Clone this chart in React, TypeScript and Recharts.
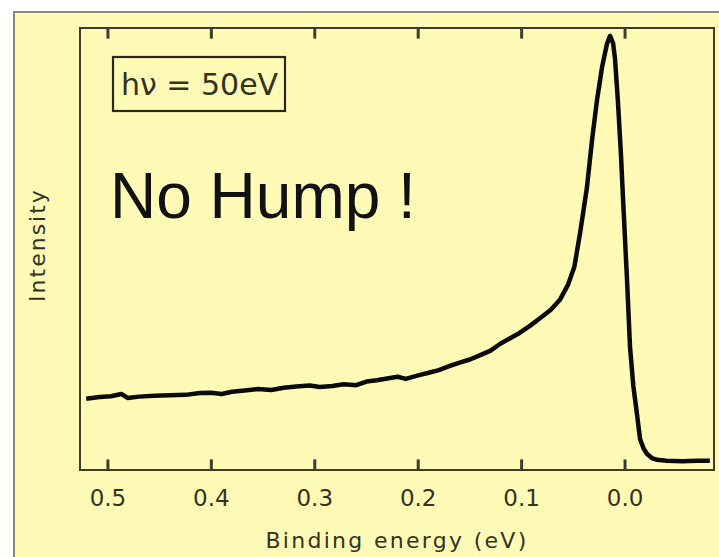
import React from "react";
import { LineChart, Line, XAxis, YAxis, ReferenceArea, ReferenceLine } from "recharts";

// Binding energy (eV) sample positions
const energy: number[] = [
  0.521, 0.508, 0.497, 0.487, 0.481, 0.47, 0.455, 0.44, 0.425, 0.411,
  0.4, 0.39, 0.38, 0.368, 0.355, 0.342, 0.33, 0.318, 0.305, 0.295,
  0.283, 0.272, 0.26, 0.25, 0.24, 0.23, 0.22, 0.212, 0.2, 0.19,
  0.18, 0.17, 0.16, 0.15, 0.14, 0.13, 0.121, 0.112, 0.102, 0.092,
  0.082, 0.072, 0.063, 0.055, 0.049, 0.0435, 0.0368, 0.0319, 0.0271, 0.0222,
  0.0174, 0.0145, 0.0115, 0.0097, 0.0068, 0.004, 0.0019, -0.0019, -0.0048, -0.008,
  -0.0116, -0.0145, -0.018, -0.0213, -0.026, -0.031, -0.04, -0.055, -0.07, -0.082,
];

// Photoemission intensity (arb. units)
const intensity: number[] = [
  0.161, 0.165, 0.167, 0.172, 0.163, 0.166, 0.168, 0.169, 0.17, 0.174,
  0.175, 0.172, 0.177, 0.18, 0.183, 0.181, 0.186, 0.189, 0.191, 0.188,
  0.19, 0.194, 0.192, 0.2, 0.203, 0.207, 0.211, 0.206, 0.214, 0.22,
  0.226, 0.235, 0.243, 0.25, 0.26, 0.27, 0.285, 0.297, 0.31, 0.326,
  0.344, 0.362, 0.385, 0.42, 0.46, 0.536, 0.64, 0.747, 0.837, 0.912,
  0.965, 0.982, 0.965, 0.93, 0.83, 0.715, 0.611, 0.43, 0.278, 0.19,
  0.125, 0.07, 0.048, 0.036, 0.027, 0.023, 0.021, 0.02, 0.021, 0.021,
];

const xTicks: number[] = [0.5, 0.4, 0.3, 0.2, 0.1, 0.0];
const xDomain: number[] = [-0.086, 0.527];
const yDomain: number[] = [0, 1];

const xTitle = "Binding energy (eV)";
const yTitle = "Intensity";
const photonLabel = "h\u03bd = 50eV";
const noteLabel = "No Hump !";

const data = energy.map((e, i) => ({ energy: e, intensity: intensity[i] }));

const FRAME = "#3e3e2a";
const TEXT = "#33331f";
// inward tick length in data units (~10px of 442px)
const TICK_FRAC = 0.024;

const BottomTick = (props: any) => {
  const { x, y, payload } = props;
  return (
    <text
      x={x}
      y={y + 36}
      textAnchor="middle"
      fontFamily="DejaVu Sans"
      fontSize={23}
      fill={TEXT}
    >
      {Number(payload.value).toFixed(1)}
    </text>
  );
};

const XTitle = (props: any) => {
  const vb = props.viewBox || {};
  const cx = (vb.x ?? 80) + (vb.width ?? 634) / 2;
  const yy = (vb.y ?? 470) + 78;
  return (
    <text
      x={cx}
      y={yy}
      textAnchor="middle"
      fontFamily="DejaVu Sans"
      fontSize={22}
      letterSpacing={2.3}
      fill={TEXT}
    >
      {xTitle}
    </text>
  );
};

export default function App() {
  return (
    <div
      style={{
        position: "absolute",
        left: 0,
        top: 0,
        width: 719,
        height: 557,
        background: "#ffffff",
        overflow: "hidden",
      }}
    >
      <div
        style={{
          position: "absolute",
          left: 13,
          top: 11,
          width: 720,
          height: 560,
          background: "#fffbb6",
          borderLeft: "2px solid #8a8a7a",
          borderTop: "2px solid #8a8a7a",
        }}
      />
      <svg
        width={719}
        height={557}
        style={{ position: "absolute", left: 0, top: 0, pointerEvents: "none" }}
      >
        <rect x={113} y={57} width={172} height={54} fill="none" stroke="#2a2a1a" strokeWidth={2.2} />
        <text x={121} y={95} fontFamily="DejaVu Sans" fontSize={30} fill={TEXT}>
          {photonLabel}
        </text>
        <text x={110} y={218} fontFamily="Liberation Sans" fontSize={64} fill="#111111">
          {noteLabel}
        </text>
        <text
          x={37}
          y={245}
          transform="rotate(-90 37 245)"
          textAnchor="middle"
          dominantBaseline="central"
          fontFamily="DejaVu Sans"
          fontSize={22}
          letterSpacing={2}
          fill={TEXT}
        >
          {yTitle}
        </text>
      </svg>
      <div style={{ position: "absolute", left: 0, top: 0 }}>
        <LineChart
          width={719}
          height={557}
          data={data}
          margin={{ top: 28, right: 5, left: 80, bottom: 0 }}
        >
          <XAxis
            dataKey="energy"
            type="number"
            domain={xDomain}
            reversed
            allowDataOverflow
            ticks={xTicks}
            interval={0}
            height={87}
            axisLine={false}
            tickLine={false}
            tickSize={0}
            tickMargin={0}
            tick={<BottomTick />}
            label={<XTitle />}
          />
          <YAxis hide type="number" domain={yDomain} allowDataOverflow />
          <ReferenceArea
            x1={xDomain[0]}
            x2={xDomain[1]}
            y1={yDomain[0]}
            y2={yDomain[1]}
            fill="none"
            stroke={FRAME}
            strokeWidth={2}
            ifOverflow="visible"
          />
          {xTicks.map((t) => (
            <ReferenceLine
              key={"b" + t}
              segment={[
                { x: t, y: yDomain[0] },
                { x: t, y: yDomain[0] + TICK_FRAC },
              ]}
              stroke={FRAME}
              strokeWidth={3}
              ifOverflow="visible"
            />
          ))}
          {xTicks.map((t) => (
            <ReferenceLine
              key={"t" + t}
              segment={[
                { x: t, y: yDomain[1] },
                { x: t, y: yDomain[1] - TICK_FRAC },
              ]}
              stroke={FRAME}
              strokeWidth={3}
              ifOverflow="visible"
            />
          ))}
          <Line
            type="linear"
            dataKey="intensity"
            stroke="#0a0a0a"
            strokeWidth={4.5}
            dot={false}
            isAnimationActive={false}
            strokeLinejoin="round"
          />
        </LineChart>
      </div>
    </div>
  );
}
